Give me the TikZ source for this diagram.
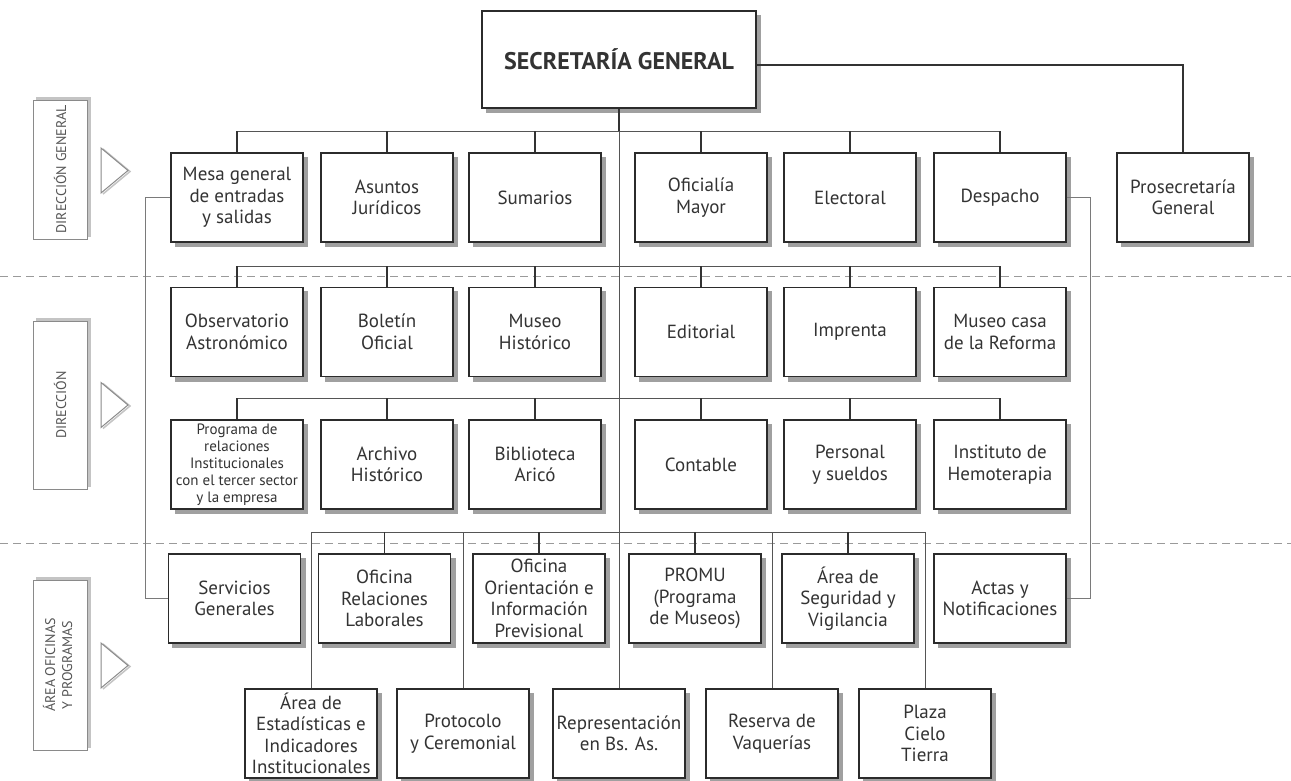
\documentclass[tikz,border=0pt]{standalone}
\usepackage{fontspec}
\usepackage{graphicx}
\setmainfont{PT Sans}
\usetikzlibrary{backgrounds}
\definecolor{boxline}{HTML}{2B2B2B}
\definecolor{boxtext}{HTML}{333333}
\definecolor{shad}{HTML}{A0A0A0}
\definecolor{busc}{HTML}{555555}
\definecolor{dropc}{HTML}{333333}
\definecolor{sidec}{HTML}{7A7A7A}
\definecolor{dashc}{HTML}{9A9A9A}
\definecolor{labline}{HTML}{8A8A8A}
\definecolor{labshad}{HTML}{C4C4C4}
\definecolor{labtext}{HTML}{555555}
\tikzset{
  orgbox/.style={draw=boxline, line width=1.3pt, fill=white, text=boxtext,
    minimum width=132pt, minimum height=89pt, inner sep=1pt, align=center,
    font=\fontsize{19}{21.5}\selectfont},
  smalltext/.style={font=\fontsize{15}{17}\selectfont},
  titlebox/.style={orgbox, minimum width=274pt, minimum height=97pt,
    font=\fontsize{24}{28}\selectfont\bfseries},
  busline/.style={draw=busc, line width=0.9pt},
  dropline/.style={draw=dropc, line width=1.2pt},
  sideline/.style={draw=sidec, line width=0.8pt},
  sepline/.style={draw=dashc, line width=0.9pt, dash pattern=on 8pt off 5pt},
  labbox/.style={draw=labline, line width=1pt, fill=white, text=labtext,
    minimum width=54pt, inner sep=0pt, align=center,
    font=\fontsize{14}{16}\selectfont},
  tri/.style={draw=labline, line width=1pt, fill=white},
  trishad/.style={draw=labshad, line width=1.5pt},
  boxshadow/.style={fill=shad},
  labshadow/.style={fill=labshad},
}
\begin{document}
\begin{tikzpicture}[x=1pt, y=-1pt]
\useasboundingbox (0,0) rectangle (1291,780);

% left labels
\node[labbox, minimum height=139pt] (lab1) at (60,169.5) {\rotatebox{90}{DIRECCIÓN GENERAL}};
\node[labbox, minimum height=168pt] (lab2) at (60,405) {\rotatebox{90}{DIRECCIÓN}};
\node[labbox, minimum height=170pt] (lab3) at (60,665) {\rotatebox{90}{\begin{tabular}{@{}c@{}}ÁREA OFICINAS\\[1pt]Y PROGRAMAS\end{tabular}}};
\foreach \yc in {170.5,405,665.5}{
  \draw[trishad] (103,\yc-22.5+1) -- (130,\yc+1) -- (103,\yc+22.5+1);
  \draw[tri] (101,\yc-22.5) -- (128,\yc) -- (101,\yc+22.5) -- cycle;
}

% top
\node[titlebox] (sec) at (619,59.5) {SECRETARÍA GENERAL};
\node[orgbox] (pros) at (1183,197.5) {Prosecretaría\\General};

% row 1
\node[orgbox] (mesa) at (237,197.5) {Mesa general\\de entradas\\y salidas};
\node[orgbox] (asun) at (387,197.5) {Asuntos\\Jurídicos};
\node[orgbox] (suma) at (535,197.5) {Sumarios};
\node[orgbox] (ofic) at (701,197.5) {Oficialía\\Mayor};
\node[orgbox] (elec) at (850,197.5) {Electoral};
\node[orgbox] (desp) at (1000,197.5) {Despacho};

% row 2
\node[orgbox] (obse) at (237,332) {Observatorio\\Astronómico};
\node[orgbox] (bole) at (387,332) {Boletín\\Oficial};
\node[orgbox] (muse) at (535,332) {Museo\\Histórico};
\node[orgbox] (edit) at (701,332) {Editorial};
\node[orgbox] (impr) at (850,332) {Imprenta};
\node[orgbox] (mcas) at (1000,332) {Museo casa\\de la Reforma};

% row 3
\node[orgbox, smalltext] (prog) at (237,464.5) {Programa de\\relaciones\\Institucionales\\con el tercer sector\\y la empresa};
\node[orgbox] (arch) at (387,464.5) {Archivo\\Histórico};
\node[orgbox] (bibl) at (535,464.5) {Biblioteca\\Aricó};
\node[orgbox] (cont) at (701,464.5) {Contable};
\node[orgbox] (pers) at (850,464.5) {Personal\\y sueldos};
\node[orgbox] (inst) at (1000,464.5) {Instituto de\\Hemoterapia};

% row 4
\node[orgbox] (serv) at (234.5,598.5) {Servicios\\Generales};
\node[orgbox] (ofre) at (384.5,598.5) {Oficina\\Relaciones\\Laborales};
\node[orgbox] (orie) at (539,598.5) {Oficina\\Orientación e\\Información\\Previsional};
\node[orgbox] (prom) at (695,598.5) {PROMU\\(Programa\\de Museos)};
\node[orgbox] (segu) at (848,598.5) {Área de\\Seguridad y\\Vigilancia};
\node[orgbox] (acta) at (1000,598.5) {Actas y\\Notificaciones};

% row 5
\node[orgbox] (esta) at (311,733.5) {Área de\\Estadísticas e\\Indicadores\\Institucionales};
\node[orgbox] (prot) at (463,733.5) {Protocolo\\y Ceremonial};
\node[orgbox] (repr) at (619,733.5) {Representación\\en Bs. As.};
\node[orgbox] (rese) at (772,733.5) {Reserva de\\Vaquerías};
\node[orgbox] (plaz) at (925,733.5) {Plaza\\Cielo\\Tierra};

% background: white page, separators, shadows
\begin{pgfonlayer}{background}
\fill[white] (0,0) rectangle (1291,780);
\draw[sepline] (0,276) -- (1291,276);
\draw[sepline] (0,543) -- (1291,543);
\foreach \n in {sec,pros,mesa,asun,suma,ofic,elec,desp,obse,bole,muse,edit,impr,mcas,prog,arch,bibl,cont,pers,inst,serv,ofre,orie,prom,segu,acta,esta,prot,repr,rese,plaz}
  \fill[boxshadow] ([xshift=4.5pt,yshift=-4.5pt]\n.south west) rectangle ([xshift=4.5pt,yshift=-4.5pt]\n.north east);
\foreach \n in {lab1,lab2,lab3}
  \fill[labshadow] ([xshift=3pt,yshift=3pt]\n.south west) rectangle ([xshift=3pt,yshift=3pt]\n.north east);
\end{pgfonlayer}

% connectors: top
\draw[dropline] (sec.east |- 0,65) -| (pros.north);
\draw[dropline] (sec.south) -- (sec.south |- 0,131);
\draw[busline] (sec.south |- 0,131) -- (repr.north);

% row 1 bus
\draw[busline] (mesa.north |- 0,131) -- (desp.north |- 0,131);
\foreach \n in {mesa,asun,suma,ofic,elec,desp}
  \draw[dropline] (\n.north) -- (\n.north |- 0,131);

% row 2 bus
\draw[busline] (obse.north |- 0,266) -- (mcas.north |- 0,266);
\foreach \n in {obse,bole,muse,edit,impr,mcas}
  \draw[dropline] (\n.north) -- (\n.north |- 0,266);

% row 3 bus
\draw[busline] (prog.north |- 0,398) -- (inst.north |- 0,398);
\foreach \n in {prog,arch,bibl,cont,pers,inst}
  \draw[dropline] (\n.north) -- (\n.north |- 0,398);

% row 4 bus
\draw[busline] (esta.north |- 0,532) -- (plaz.north |- 0,532);
\foreach \n in {ofre,orie,prom,segu}
  \draw[dropline] (\n.north) -- (\n.north |- 0,532);
\foreach \n in {esta,prot,rese,plaz}
  \draw[busline] (\n.north) -- (\n.north |- 0,532);

% side lines
\draw[sideline] (mesa.west) -- ++(-25,0) |- (serv.west);
\draw[sideline] (desp.east) -- ++(24,0) |- (acta.east);
\end{tikzpicture}
\end{document}
